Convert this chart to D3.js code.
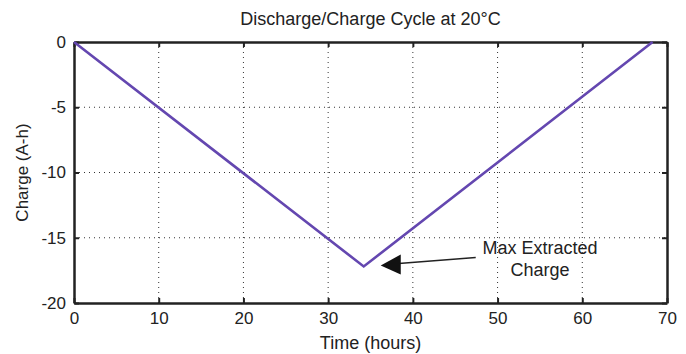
<!DOCTYPE html>
<html>
<head>
<meta charset="utf-8">
<script src="https://cdn.jsdelivr.net/npm/d3@7"></script>
<style>
  body { margin: 0; background: white; }
  text { font-family: "Liberation Sans", Arial, sans-serif; fill: #222; }
</style>
</head>
<body>
<div class="chart"></div>
<script>
const hours = [0, 34.2, 68.3];
const charge = [0, -17.2, 0];
const xTicks = [0, 10, 20, 30, 40, 50, 60, 70];
const yTicks = [0, -5, -10, -15, -20];

const w = 686;
const h = 354;
const m = { left: 74, right: 19, top: 42, bottom: 51 };

const svg = d3.select('.chart').append('svg').attr('width', w).attr('height', h);

const x = d3.scaleLinear().domain([0, 70]).range([m.left, w - m.right]);
const y = d3.scaleLinear().domain([-20, 0]).range([h - m.bottom, m.top]);

// dotted grid
svg.append('g').selectAll('line').data(xTicks.slice(1, -1)).enter().append('line')
  .attr('x1', d => x(d)).attr('x2', d => x(d)).attr('y1', m.top).attr('y2', h - m.bottom)
  .attr('stroke', '#333').attr('stroke-width', 1).attr('stroke-dasharray', '1,4');
svg.append('g').selectAll('line').data(yTicks.slice(1, -1)).enter().append('line')
  .attr('x1', m.left).attr('x2', w - m.right).attr('y1', d => y(d)).attr('y2', d => y(d))
  .attr('stroke', '#333').attr('stroke-width', 1).attr('stroke-dasharray', '1,4');

// axes with inward ticks, plain hyphen minus like matlab
const xAxis = svg.append('g').attr('transform', `translate(0, ${h - m.bottom})`)
  .call(d3.axisBottom(x).tickValues(xTicks).tickSizeInner(-5).tickSizeOuter(0).tickPadding(9).tickFormat(d => String(d)));
const yAxis = svg.append('g').attr('transform', `translate(${m.left}, 0)`)
  .call(d3.axisLeft(y).tickValues(yTicks).tickSizeInner(-5).tickSizeOuter(0).tickPadding(11).tickFormat(d => String(d)));
svg.append('g').attr('transform', `translate(0, ${m.top})`)
  .call(d3.axisTop(x).tickValues(xTicks).tickSizeInner(-5).tickSizeOuter(0).tickFormat(''));
svg.append('g').attr('transform', `translate(${w - m.right}, 0)`)
  .call(d3.axisRight(y).tickValues(yTicks).tickSizeInner(-5).tickSizeOuter(0).tickFormat(''));
svg.selectAll('.domain').attr('stroke', '#222').attr('stroke-width', 2.5);
svg.selectAll('.tick line').attr('stroke', '#222').attr('stroke-width', 2);
xAxis.selectAll('text').style('font-size', '17px').attr('fill', '#222');
yAxis.selectAll('text').style('font-size', '17px').attr('fill', '#222').attr('dx', '3px');

// data line
svg.append('path')
  .datum(hours.map((t, i) => [t, charge[i]]))
  .attr('d', d3.line().x(d => x(d[0])).y(d => y(d[1])))
  .attr('fill', 'none').attr('stroke', '#6447b0').attr('stroke-width', 2.6);

// titles
svg.append('text').attr('x', (m.left + w - m.right) / 2).attr('y', 25).attr('text-anchor', 'middle')
  .style('font-size', '18px').text('Discharge/Charge Cycle at 20°C');
svg.append('text').attr('x', (m.left + w - m.right) / 2).attr('y', 349).attr('text-anchor', 'middle')
  .style('font-size', '18px').text('Time (hours)');
svg.append('text').attr('transform', `translate(28, ${(m.top + h - m.bottom) / 2}) rotate(-90)`)
  .attr('text-anchor', 'middle').style('font-size', '17px').text('Charge (A-h)');

// annotation
const tipX = x(hours[1]) + 17;
const tipY = y(charge[1]) - 1;
svg.append('line').attr('x1', tipX + 18).attr('y1', tipY - 2).attr('x2', tipX + 95).attr('y2', tipY - 8)
  .attr('stroke', '#222').attr('stroke-width', 1.5);
svg.append('path')
  .attr('d', `M${tipX},${tipY} L${tipX + 20},${tipY - 11} L${tipX + 20},${tipY + 9} Z`)
  .attr('fill', '#111');
svg.append('text').attr('x', 540).attr('y', 254).attr('text-anchor', 'middle')
  .style('font-size', '18px').text('Max Extracted');
svg.append('text').attr('x', 540).attr('y', 276).attr('text-anchor', 'middle')
  .style('font-size', '18px').text('Charge');
</script>
</body>
</html>
